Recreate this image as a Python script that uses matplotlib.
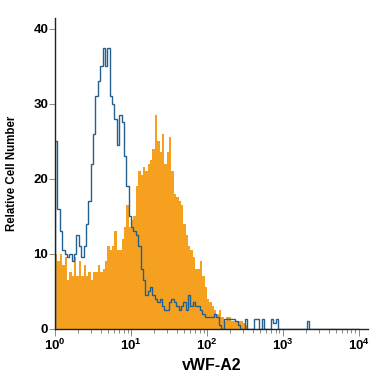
import numpy as np
import matplotlib
matplotlib.use('Agg')
import matplotlib.pyplot as plt
from matplotlib.ticker import LogLocator, LogFormatterSciNotation, NullFormatter

plt.rcParams['font.family'] = ['Liberation Sans Narrow', 'Liberation Sans', 'DejaVu Sans']
plt.rcParams['mathtext.default'] = 'regular'

# channels: 32 bins per decade, 10^0 .. 10^4
bins_per_decade = 32
edges = 10 ** (np.arange(0, 4 * bins_per_decade + 1) / bins_per_decade)

# vWF-A2 stained cells (filled orange)
vwf_counts = [
    10, 9, 10, 8.5, 9.5, 6.5, 7.5, 7, 9.5, 7,
    9, 7, 8.5, 7, 7.5, 6.5, 7.5, 7.5, 8.5, 7.5,
    8, 9, 11, 10.5, 11, 13, 10.5, 10.5, 12, 13.5,
    16.5, 13.5, 14.5, 15, 19, 21, 20.5, 21.5, 21, 22,
    22.5, 24, 28.5, 25, 23.5, 26, 22, 23.5, 25.5, 21,
    18, 17.5, 17, 16.5, 14, 12.5, 11, 10.5, 9.5, 8,
    8, 9, 7, 5.5, 4, 3.5, 3, 2.5, 2, 2.5,
    1.5, 1, 1.5, 1.5, 1, 1, 1, 1, 1, 0.8,
    0.5,
]

# isotype control (blue outline)
isotype_counts = [
    25, 16, 13, 10.5, 10, 9.5, 10, 9, 10, 12.5,
    11, 9.5, 11, 14, 17, 22, 26, 31, 33, 35,
    37.5, 35, 37.5, 31, 30, 28, 24.5, 28.5, 27.5, 23,
    19, 15, 13.5, 13, 12.5, 11, 8, 6.5, 4.5, 5,
    5.5, 4.5, 4, 3.5, 4, 3, 2.5, 2.5, 3.5, 4,
    3.5, 3, 2.5, 3, 3.5, 2.5, 4.5, 3, 3.5, 3,
    3, 2.5, 2, 1.5, 1.5, 1.5, 1.5, 2, 1.5, 0.5,
    0, 1.3, 1.3, 1.3, 1.3, 1.3, 1, 0.5, 0, 0,
    1.3, 0, 0, 0, 1.3, 1.3, 0, 1.3, 0, 0,
    0, 1.3, 0.8, 1.3, 0, 0, 0, 0, 0, 0,
    0, 0, 0, 0, 0, 0, 1,
]

n_bins = len(edges) - 1
vwf = np.zeros(n_bins)
vwf[:len(vwf_counts)] = vwf_counts
iso = np.zeros(n_bins)
iso[:len(isotype_counts)] = isotype_counts

fig = plt.figure(figsize=(3.75, 3.75), dpi=100)
ax = fig.add_axes([0.147, 0.124, 0.835, 0.827])

ax.stairs(vwf, edges, fill=True, color='#f5a11f', lw=0)
ax.stairs(iso, edges, color='#24608e', lw=1.0)

ax.set_xscale('log')
ax.set_xlim(1, 13300)
ax.set_ylim(0, 41.4)
ax.set_yticks([0, 10, 20, 30, 40])
ax.xaxis.set_major_locator(LogLocator(base=10, numticks=10))
ax.xaxis.set_major_formatter(LogFormatterSciNotation())
ax.xaxis.set_minor_locator(LogLocator(base=10, subs=np.arange(2, 10), numticks=10))
ax.xaxis.set_minor_formatter(NullFormatter())

for s in ['top', 'right']:
    ax.spines[s].set_visible(False)
for s in ['left', 'bottom']:
    ax.spines[s].set_color('#222222')
    ax.spines[s].set_linewidth(1.0)

ax.tick_params(axis='y', length=4, width=0.6, color='#777777', labelsize=9.5, pad=1)
ax.tick_params(axis='x', which='major', length=5, width=0.6, color='#777777', labelsize=9.5, pad=2)
ax.tick_params(axis='x', which='minor', length=3, width=0.6, color='#777777')
for lab in ax.get_xticklabels() + ax.get_yticklabels():
    lab.set_fontweight('bold')

ax.set_xlabel('vWF-A2', fontsize=11.5, fontweight='bold', labelpad=3)
ax.set_ylabel('Relative Cell Number', fontsize=8.3, fontweight='bold', labelpad=11)

fig.savefig('out.png', dpi=100)
